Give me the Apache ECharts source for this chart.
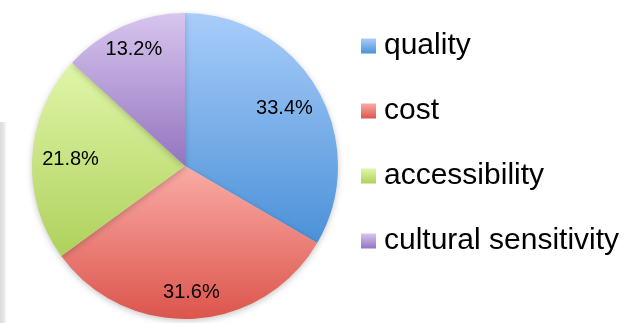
<!DOCTYPE html>
<html>
<head>
<meta charset="utf-8">
<style>
  html, body { margin: 0; padding: 0; background: #ffffff; }
  #chart { width: 626px; height: 323px; }
</style>
<script src="https://cdn.jsdelivr.net/npm/echarts@6/dist/echarts.min.js"></script>
</head>
<body>
<div id="chart"></div>
<script>
// Survey share per factor (percent)
const categories = ['quality', 'cost', 'accessibility', 'cultural sensitivity'];
const shares = [33.4, 31.6, 21.8, 13.2];

// Slice fills: light top -> darker bottom
const topColors = ['#a9cdfa', '#faaba6', '#e0f6a9', '#d7c5ee'];
const bottomColors = ['#4b91d8', '#dc554c', '#afd15c', '#9474c0'];

const CENTER = [185, 166];
const RADIUS = 153;

function grad(i) {
  return new echarts.graphic.LinearGradient(0, 0, 0, 1, [
    { offset: 0, color: topColors[i] },
    { offset: 1, color: bottomColors[i] }
  ]);
}

const pieData = categories.map((name, i) => ({
  name: name,
  value: shares[i],
  itemStyle: { color: grad(i) }
}));

const labelFont = {
  fontFamily: 'Liberation Sans, Arial, sans-serif',
  fontSize: 20,
  color: '#000000'
};

// Transparent twin pie whose inside labels sit at half its radius;
// only the slices listed in `shown` get a label from this twin.
function labelTwin(scale, shown) {
  return {
    type: 'pie',
    center: CENTER,
    radius: [0, RADIUS * scale],
    startAngle: 90,
    clockwise: true,
    silent: true,
    z: 5,
    itemStyle: { color: 'rgba(0,0,0,0)' },
    labelLine: { show: false },
    label: Object.assign({
      position: 'inside',
      formatter: p => p.value.toFixed(1) + '%'
    }, labelFont),
    data: categories.map((name, i) => ({
      name: name,
      value: shares[i],
      label: { show: shown.indexOf(i) >= 0 }
    }))
  };
}

const chart = echarts.init(document.getElementById('chart'), null, { renderer: 'canvas' });

chart.setOption({
  backgroundColor: '#ffffff',
  animation: false,
  graphic: [
    {
      type: 'rect',
      left: 0,
      top: 122,
      shape: { width: 8, height: 201 },
      style: {
        fill: new echarts.graphic.LinearGradient(0, 0, 1, 0, [
          { offset: 0, color: 'rgba(215,215,215,0.9)' },
          { offset: 0.5, color: 'rgba(225,225,225,0.8)' },
          { offset: 1, color: 'rgba(255,255,255,0)' }
        ])
      },
      silent: true,
      z: -1
    }
  ],
  legend: {
    orient: 'vertical',
    left: 356,
    top: 24,
    icon: 'rect',
    itemWidth: 15,
    itemHeight: 15,
    itemGap: 31,
    selectedMode: false,
    data: categories,
    textStyle: {
      fontFamily: 'Liberation Sans, Arial, sans-serif',
      fontSize: 30,
      lineHeight: 30,
      color: '#000000',
      padding: [4, 0, 0, 3]
    }
  },
  series: [
    {
      type: 'pie',
      name: 'slices',
      center: CENTER,
      radius: [0, RADIUS],
      startAngle: 90,
      clockwise: true,
      silent: true,
      label: { show: false },
      labelLine: { show: false },
      itemStyle: {
        borderWidth: 0,
        shadowBlur: 6,
        shadowColor: 'rgba(0,0,0,0.22)',
        shadowOffsetY: 2
      },
      data: pieData
    },
    labelTwin(1.46, [0, 2]),
    labelTwin(1.62, [1, 3])
  ]
});
</script>
</body>
</html>
